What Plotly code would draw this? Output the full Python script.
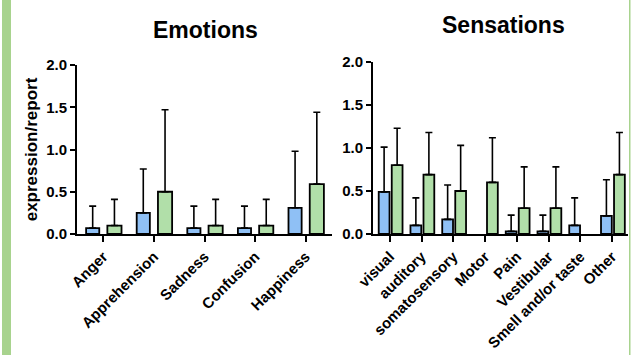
import plotly.graph_objects as go

emo_cats = ["Anger", "Apprehension", "Sadness", "Confusion", "Happiness"]
emo_blue = [0.07, 0.25, 0.07, 0.07, 0.31]
emo_blue_sd = [0.26, 0.52, 0.26, 0.26, 0.67]
emo_green = [0.10, 0.50, 0.10, 0.10, 0.59]
emo_green_sd = [0.31, 0.97, 0.31, 0.31, 0.85]

sen_cats = ["visual", "auditory", "somatosensory", "Motor", "Pain", "Vestibular",
            "Smell and/or taste", "Other"]
sen_blue = [0.49, 0.10, 0.17, None, 0.03, 0.03, 0.10, 0.21]
sen_blue_sd = [0.52, 0.32, 0.40, None, 0.19, 0.19, 0.32, 0.42]
sen_green = [0.80, 0.69, 0.50, 0.60, 0.30, 0.30, None, 0.69]
sen_green_sd = [0.43, 0.49, 0.53, 0.52, 0.48, 0.48, None, 0.49]

y_ticks = [0, 0.5, 1.0, 1.5, 2.0]
y_ticktext = ["0.0", "0.5", "1.0", "1.5", "2.0"]

BLUE = "#8fc0f5"
GREEN = "#b1dfa9"
FONT = "Liberation Sans"

fig = go.Figure()

def add_bars(cats, vals, sds, color, xa, ya, offset, width):
    fig.add_trace(go.Bar(
        x=cats, y=vals, xaxis=xa, yaxis=ya,
        marker=dict(color=color, line=dict(color="black", width=1.8)),
        width=width, offset=offset,
        error_y=dict(type="data", array=sds, symmetric=False,
                     arrayminus=[0] * len(sds), color="black",
                     thickness=1.6, width=3.5),
        showlegend=False, hoverinfo="skip",
    ))

add_bars(emo_cats, emo_blue, emo_blue_sd, BLUE, "x", "y", -0.34, 0.26)
add_bars(emo_cats, emo_green, emo_green_sd, GREEN, "x", "y", 0.08, 0.28)
add_bars(sen_cats, sen_blue, sen_blue_sd, BLUE, "x2", "y2", -0.35, 0.34)
add_bars(sen_cats, sen_green, sen_green_sd, GREEN, "x2", "y2", 0.06, 0.34)

W, H = 631, 355
xax_common = dict(
    type="category", showline=True, linecolor="black", linewidth=2,
    ticks="outside", ticklen=6, tickwidth=2, tickcolor="black",
    tickangle=-45, tickfont=dict(family=FONT, size=15, color="black", weight="bold"),
    showgrid=False, zeroline=False, automargin=False,
)
yax_common = dict(
    range=[0, 2], showline=True, linecolor="black", linewidth=2,
    ticks="outside", ticklen=5, tickwidth=2, tickcolor="black",
    tickvals=y_ticks, ticktext=y_ticktext,
    tickfont=dict(family=FONT, size=15, color="black", weight="bold"),
    showgrid=False, zeroline=False, automargin=False,
)

fig.update_layout(
    template="none",
    width=W, height=H,
    margin=dict(l=0, r=0, t=0, b=0, autoexpand=False),
    paper_bgcolor="white", plot_bgcolor="white",
    barmode="overlay",
    xaxis=dict(xax_common, domain=[77 / W, 332 / W], anchor="y", range=[-0.52, 4.52]),
    yaxis=dict(yax_common, domain=[1 - 234 / H, 1 - 65 / H], anchor="x",
               title=dict(text="expression/report",
                          font=dict(family=FONT, size=17, color="black", weight="bold"),
                          standoff=4)),
    xaxis2=dict(xax_common, domain=[373 / W, 628 / W], anchor="y2", range=[-0.53, 7.5]),
    yaxis2=dict(yax_common, domain=[1 - 234 / H, 1 - 62 / H], anchor="x2"),
    annotations=[
        dict(text="Emotions", x=205 / W, y=1 - 30 / H, xref="paper", yref="paper",
             xanchor="center", yanchor="middle", showarrow=False,
             font=dict(family=FONT, size=23, color="black", weight="bold")),
        dict(text="Sensations", x=503 / W, y=1 - 25 / H, xref="paper", yref="paper",
             xanchor="center", yanchor="middle", showarrow=False,
             font=dict(family=FONT, size=23, color="black", weight="bold")),
    ],
    shapes=[
        dict(type="rect", xref="paper", yref="paper", x0=2 / W, x1=11 / W, y0=0, y1=1,
             fillcolor="#a8d38e", line=dict(width=0), layer="below"),
        dict(type="rect", xref="paper", yref="paper", x0=629 / W, x1=630.5 / W, y0=0, y1=1,
             fillcolor="#a8d38e", line=dict(width=0), layer="below"),
    ],
)

fig.write_html(
    "out.html",
    config={"displayModeBar": False},
    post_script="document.body.style.margin='0';document.body.style.overflow='hidden';",
)
